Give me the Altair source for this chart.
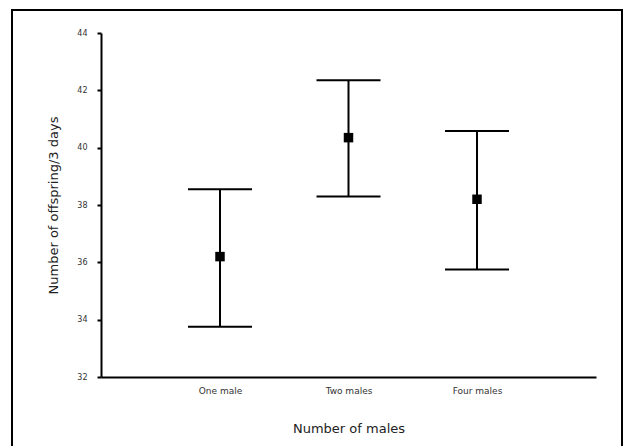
import altair as alt
import pandas as pd

groups = ["One male", "Two males", "Four males"]
means = [36.2, 40.35, 38.2]
lower = [33.75, 38.3, 35.75]
upper = [38.55, 42.35, 40.58]

df = pd.DataFrame({"group": groups, "mean": means, "lo": lower, "hi": upper})

FONT = "DejaVu Sans"

x = alt.X(
    "group:N",
    sort=groups,
    scale=alt.Scale(type="point", padding=0.926),
    axis=alt.Axis(
        title="Number of males",
        ticks=False,
        tickSize=0,
        labelAngle=0,
        labelFont=FONT,
        labelFontSize=9,
        labelColor="#333",
        labelPadding=9,
        titleFont=FONT,
        titleFontSize=13,
        titleFontWeight="normal",
        titleColor="#222",
        titlePadding=27,
        domainColor="black",
        domainWidth=2,
        grid=False,
    ),
)

yscale = alt.Scale(domain=[32, 44], nice=False, zero=False)
yaxis = alt.Axis(
    title="Number of offspring/3 days",
    values=[32, 34, 36, 38, 40, 42, 44],
    tickSize=4,
    tickWidth=2,
    tickColor="black",
    labelFont=FONT,
    labelFontSize=8,
    labelColor="#333",
    labelPadding=10,
    titleFont=FONT,
    titleFontSize=13,
    titleFontWeight="normal",
    titleColor="#222",
    titlePadding=16,
    domainColor="black",
    domainWidth=2,
    grid=False,
)

base = alt.Chart(df)

stems = base.mark_rule(color="black", strokeWidth=2, opacity=1).encode(
    x=x,
    y=alt.Y("lo:Q", scale=yscale, axis=yaxis),
    y2="hi:Q",
)
caps_hi = base.mark_tick(color="black", thickness=2, size=64, orient="horizontal", opacity=1).encode(
    x=x, y=alt.Y("hi:Q", scale=yscale)
)
caps_lo = base.mark_tick(color="black", thickness=2, size=64, orient="horizontal", opacity=1).encode(
    x=x, y=alt.Y("lo:Q", scale=yscale)
)
pts = base.mark_square(color="black", opacity=1, size=90).encode(
    x=x, y=alt.Y("mean:Q", scale=yscale)
)

frame = alt.Chart(pd.DataFrame({"a": [0]})).mark_rect(
    fill=None, stroke="black", strokeWidth=2
).encode(
    x=alt.value(-89), x2=alt.value(521), y=alt.value(-23), y2=alt.value(425)
)

chart = alt.layer(frame, stems, caps_hi, caps_lo, pts).properties(
    width=495,
    height=344,
    autosize=alt.AutoSizeParams(type="none"),
    padding={"left": 101, "top": 33, "right": 28, "bottom": 69},
    background="white",
).configure_view(stroke=None)

chart.save("out.html", embed_options={"renderer": "svg", "actions": False})
